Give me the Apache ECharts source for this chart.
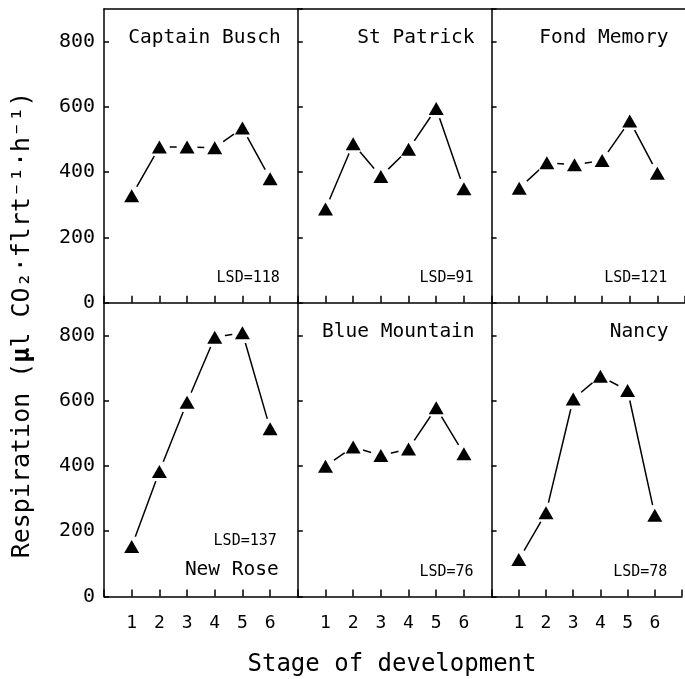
<!DOCTYPE html>
<html><head><meta charset="utf-8">
<script src="https://cdn.jsdelivr.net/npm/echarts@6/dist/echarts.min.js"></script>
<style>html,body{margin:0;padding:0;background:#fff}#c{width:685px;height:679px}</style>
</head><body><div id="c"></div>
<script>
// ---- data ----
const stages = [1, 2, 3, 4, 5, 6];
const cultivars = ['Captain Busch', 'St Patrick', 'Fond Memory', 'New Rose', 'Blue Mountain', 'Nancy'];
const lsdLabels = ['LSD=118', 'LSD=91', 'LSD=121', 'LSD=137', 'LSD=76', 'LSD=78'];
const captainBusch = [328, 477, 477, 475, 535, 380];
const stPatrick    = [287, 487, 387, 470, 595, 349];
const fondMemory   = [351, 429, 423, 436, 557, 397];
const newRose      = [153, 383, 595, 794, 808, 514];
const blueMountain = [399, 458, 432, 452, 578, 437];
const nancy        = [113, 256, 605, 675, 631, 249];
const xTickLabels = ['1', '2', '3', '4', '5', '6'];
const yTickLabels = ['0', '200', '400', '600', '800'];
const xTitle = 'Stage of development';

const panelValues = [captainBusch, stPatrick, fondMemory, newRose, blueMountain, nancy];

// ---- layout ----
const FONT = 'DejaVu Sans Mono';
const L = 104, W = 193.8, T = 9, H = 293.7;
const LINE = { color: '#000', width: 1.5 };

const chart = echarts.init(document.getElementById('c'), null, { renderer: 'canvas' });

const grids = [], xAxes = [], yAxes = [], series = [], graphics = [];
panelValues.forEach((vals, i) => {
  const col = i % 3, row = Math.floor(i / 3);
  const gl = L + col * W, gt = T + row * H;
  grids.push({ left: gl, top: gt, width: W, height: H, show: false });
  xAxes.push({
    gridIndex: i, type: 'value', min: 0, max: 7, interval: 1, position: 'bottom',
    axisLine: { show: true, onZero: false, lineStyle: LINE },
    axisTick: { show: true, inside: true, length: 7, lineStyle: LINE },
    axisLabel: {
      show: row === 1, margin: 18, fontFamily: FONT, fontSize: 18, color: '#000',
      formatter: v => xTickLabels[stages.indexOf(v)] || ''
    },
    splitLine: { show: false }
  });
  yAxes.push({
    gridIndex: i, type: 'value', min: 0, max: 900, interval: 200,
    axisLine: { show: true, onZero: false, lineStyle: LINE },
    axisTick: { show: true, inside: true, length: 5, lineStyle: LINE },
    axisLabel: {
      show: col === 0, showMaxLabel: false, margin: 9, fontFamily: FONT, fontSize: 20, color: '#000',
      formatter: v => yTickLabels[v / 200] || ''
    },
    splitLine: { show: false }
  });
  const data = stages.map((s, k) => [s, vals[k]]);
  series.push({
    type: 'line', xAxisIndex: i, yAxisIndex: i, data: data,
    symbol: 'circle', symbolSize: 21, showAllSymbol: true,
    itemStyle: { color: '#fff', borderWidth: 0, opacity: 1 },
    lineStyle: { color: '#000', width: 1.5 },
    silent: true, emphasis: { disabled: true }, z: 2
  });
  series.push({
    type: 'scatter', xAxisIndex: i, yAxisIndex: i, data: data,
    symbol: 'triangle', symbolSize: [15, 13],
    itemStyle: { color: '#000', opacity: 1 }, silent: true, emphasis: { disabled: true }, z: 3
  });
  // panel labels
  const right = gl + W - 17;
  if (i === 3) {
    graphics.push({ type: 'text', x: right - 2, y: gt + H - 26,
      style: { text: cultivars[i], font: '19.5px "' + FONT + '"', fill: '#000', align: 'right', verticalAlign: 'middle' } });
    graphics.push({ type: 'text', x: right - 4, y: gt + H - 55,
      style: { text: lsdLabels[i], font: '15px "' + FONT + '"', fill: '#000', align: 'right', verticalAlign: 'middle' } });
  } else {
    graphics.push({ type: 'text', x: right, y: gt + 29,
      style: { text: cultivars[i], font: '19.5px "' + FONT + '"', fill: '#000', align: 'right', verticalAlign: 'middle' } });
    graphics.push({ type: 'text', x: right - 1, y: gt + H - (row === 0 ? 25 : 24),
      style: { text: lsdLabels[i], font: '15px "' + FONT + '"', fill: '#000', align: 'right', verticalAlign: 'middle' } });
  }
});

// top frame line of the upper panels: a label-less top x axis in each upper grid
[0, 1, 2].forEach(g => {
  xAxes.push({
    gridIndex: g, type: 'value', min: 0, max: 7, position: 'top',
    axisLine: { show: true, onZero: false, lineStyle: LINE },
    axisTick: { show: false }, axisLabel: { show: false }, splitLine: { show: false }
  });
});

// axis titles
graphics.push({ type: 'text', x: 392, y: 665,
  style: { text: xTitle, font: '24px "' + FONT + '"', fill: '#000', align: 'center', verticalAlign: 'middle' } });
graphics.push({ type: 'text', x: 22, y: 325, rotation: Math.PI / 2,
  style: {
    text: 'Respiration ({b|µ}l CO₂·flrt⁻¹·h⁻¹)',
    font: '25px "' + FONT + '"', fill: '#000', align: 'center', verticalAlign: 'middle',
    rich: { b: { fontFamily: FONT, fontSize: 25, fontWeight: 'bold', fill: '#000' } }
  } });

chart.setOption({
  animation: false,
  backgroundColor: '#fff',
  grid: grids, xAxis: xAxes, yAxis: yAxes, series: series,
  graphic: graphics
});
</script>
</body></html>
